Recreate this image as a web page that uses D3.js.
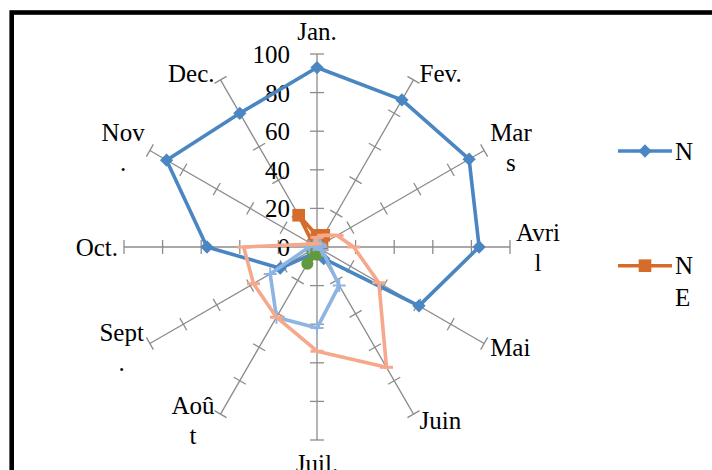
<!DOCTYPE html>
<html>
<head>
<meta charset="utf-8">
<script src="https://cdn.jsdelivr.net/npm/d3@7"></script>
<style>
  html, body { margin: 0; padding: 0; background: #fff; overflow: hidden; }
  svg { display: block; font-family: "Liberation Serif", "Times New Roman", serif; }
</style>
</head>
<body>
<svg id="chart" width="712" height="470"></svg>
<script>
// Months around the radar, and how each label wraps in its narrow box
const months = ["Jan.", "Fev.", "Mars", "Avril", "Mai", "Juin", "Juil.", "Août", "Sept.", "Oct.", "Nov.", "Dec."];
const monthLines = [["Jan."], ["Fev."], ["Mar", "s"], ["Avri", "l"], ["Mai"], ["Juin"], ["Juil."], ["Aoû", "t"], ["Sept", "."], ["Oct."], ["Nov", "."], ["Dec."]];
const radialTicks = [0, 20, 40, 60, 80, 100];

// Monthly values per series
const valuesN        = [93, 88, 91, 84, 61, 7, 3, 4, 22, 57, 90, 80];
const valuesNE       = [6, 7, 3, 1, 1, 1, 1, 1, 1, 1, 2, 19];
const valuesGreen    = [1, 1, 1, 1, 1, 2, 4, 10, 3, 1, 1, 1];
const valuesLightBlu = [2, 2, 2, 2, 3, 23, 42, 42, 28, 4, 2, 2];
const valuesSalmon   = [5, 7, 12, 19, 37, 72, 54, 42, 38, 38, 3, 2];
const legendNames    = ["N", "NE"];

const series = [
  { values: valuesN,        color: "#4A86C2", marker: "diamond" },
  { values: valuesNE,       color: "#D66C2A", marker: "square" },
  { values: valuesGreen,    color: "#63993E", marker: "circle" },
  { values: valuesLightBlu, color: "#8DB4E2", marker: "plus" },
  { values: valuesSalmon,   color: "#F5A88C", marker: "dash" }
];

const svg = d3.select("#chart");
const cx = 317, cy = 247;
const FONT = 25;

const r = d3.scaleLinear().domain([0, 100]).range([0, 193]);
const angle = d3.scaleBand().domain(months).range([0, 2 * Math.PI]).padding(0);

const polar = (a, rad) => [cx + rad * Math.sin(a), cy - rad * Math.cos(a)];

// Outer frame
svg.append("rect")
  .attr("x", 11.7).attr("y", 12.5)
  .attr("width", 780).attr("height", 520)
  .attr("fill", "none").attr("stroke", "#000").attr("stroke-width", 4.6);

// Spokes with tick marks
const grid = svg.append("g").attr("stroke", "#8C8C8C").attr("stroke-width", 1.3).attr("fill", "none");
months.forEach(m => {
  const a = angle(m);
  const [x2, y2] = polar(a, r(100));
  grid.append("line").attr("x1", cx).attr("y1", cy).attr("x2", x2).attr("y2", y2);
  radialTicks.filter(t => t > 0).forEach(t => {
    const [px, py] = polar(a, r(t));
    const ux = Math.cos(a) * 7, uy = Math.sin(a) * 7;
    grid.append("line")
      .attr("x1", px - ux).attr("y1", py - uy)
      .attr("x2", px + ux).attr("y2", py + uy);
  });
});

// Value labels along the first spoke
svg.append("g")
  .selectAll("text")
  .data(radialTicks)
  .join("text")
  .attr("x", cx - 27)
  .attr("y", d => cy - r(d) + 9)
  .attr("text-anchor", "end")
  .attr("font-size", FONT)
  .attr("fill", "#000")
  .text(d => d);

// Month labels placed just beyond each spoke end
const LH = 30;
months.forEach((m, i) => {
  const a = angle(m);
  const [ex, ey] = polar(a, r(100));
  const lines = monthLines[i];
  const t = svg.append("text").attr("font-size", FONT).attr("fill", "#000").attr("text-anchor", "middle");
  const spans = lines.map(l => t.append("tspan").text(l));
  const w = d3.max(spans, s => s.node().getComputedTextLength());
  const s = Math.sin(a), c = Math.cos(a);
  let lx, ly;
  if (Math.abs(s) < 0.01) {
    lx = ex;
    ly = ey - Math.sign(c) * (LH / 2 + 8);
  } else {
    lx = ex + Math.sign(s) * (w / 2 + 6);
    ly = ey - c * 7;
  }
  const first = ly - (lines.length - 1) * LH / 2 + 8.5;
  spans.forEach((sp, k) => sp.attr("x", lx).attr("y", first + k * LH));
});

// Series polygons
const radial = d3.lineRadial()
  .angle((d, i) => angle(months[i]))
  .radius(d => r(d))
  .curve(d3.curveLinearClosed);

const plot = svg.append("g").attr("transform", `translate(${cx},${cy})`);

function drawMarker(g, type, color, x, y) {
  if (type === "diamond") {
    g.append("path").attr("d", d3.symbol(d3.symbolSquare, 88)())
      .attr("transform", `translate(${x},${y}) rotate(45)`).attr("fill", color);
  } else if (type === "square") {
    g.append("path").attr("d", d3.symbol(d3.symbolSquare, 160)())
      .attr("transform", `translate(${x},${y})`).attr("fill", color);
  } else if (type === "circle") {
    g.append("path").attr("d", d3.symbol(d3.symbolCircle, 115)())
      .attr("transform", `translate(${x},${y})`).attr("fill", color);
  } else if (type === "plus") {
    g.append("path").attr("d", "M-6.5,0H6.5M0,-6.5V6.5")
      .attr("transform", `translate(${x},${y})`).attr("stroke", color).attr("stroke-width", 2).attr("fill", "none");
  } else if (type === "dash") {
    g.append("path").attr("d", "M-6.5,0H6.5")
      .attr("transform", `translate(${x},${y})`).attr("stroke", color).attr("stroke-width", 3).attr("fill", "none");
  }
}

series.forEach(sr => {
  const g = plot.append("g");
  g.append("path")
    .attr("d", radial(sr.values))
    .attr("fill", "none")
    .attr("stroke", sr.color)
    .attr("stroke-width", 3.6)
    .attr("stroke-linejoin", "round");
  sr.values.forEach((v, i) => {
    const a = angle(months[i]);
    drawMarker(g, sr.marker, sr.color, r(v) * Math.sin(a), -r(v) * Math.cos(a));
  });
});

// Legend (narrow box: names wrap one letter per line)
const legend = svg.append("g");
legendNames.forEach((name, i) => {
  const y = 151 + i * 114.7;
  const sr = series[i];
  legend.append("line").attr("x1", 618).attr("x2", 672).attr("y1", y).attr("y2", y)
    .attr("stroke", sr.color).attr("stroke-width", 3.6);
  drawMarker(legend, sr.marker, sr.color, 645, y);
  const t = legend.append("text").attr("font-size", FONT).attr("fill", "#000");
  name.split("").forEach((ch, k) => {
    t.append("tspan").attr("x", 675).attr("y", y + 8.5 + k * 32).text(ch);
  });
});
</script>
</body>
</html>
